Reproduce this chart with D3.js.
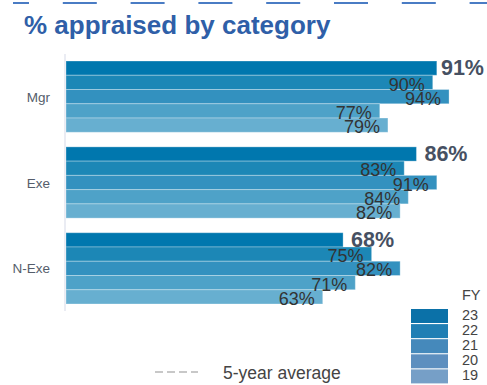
<!DOCTYPE html>
<html><head><meta charset="utf-8">
<script src="https://cdn.jsdelivr.net/npm/d3@7"></script>
<style>body{margin:0;background:#fff;}svg{display:block;font-family:"Liberation Sans",Arial,sans-serif;}</style>
</head><body><svg id="c" width="487" height="385"></svg>
<script>
const categories = ["Mgr", "Exe", "N-Exe"];
const years = ["23", "22", "21", "20", "19"];
const values = {
  "Mgr":   [91, 90, 94, 77, 79],
  "Exe":   [86, 83, 91, 84, 82],
  "N-Exe": [68, 75, 82, 71, 63]
};
const barColors = ["#0077ae", "#1c87b6", "#3391bf", "#4ea2c8", "#67afd0"];
const legendColors = ["#0b71a8", "#207fb4", "#4589bb", "#5d8fbf", "#769fc7"];
const titleText = "% appraised by category";
const avgLabel = "5-year average";

const svg = d3.select("#c");
const W = 487;

// top dashed decoration
svg.append("line").attr("x1", 13).attr("x2", 487).attr("y1", 3).attr("y2", 3)
  .attr("stroke", "#4a7cc4").attr("stroke-width", 2)
  .attr("stroke-dasharray", "34 33.8").attr("stroke-dashoffset", 18);

svg.append("text").attr("x", 24).attr("y", 34).text(titleText)
  .attr("font-size", 26).attr("font-weight", "bold").attr("fill", "#2f5fa8");

const x = d3.scaleLinear().domain([0, 100]).range([66, 473.5]);
const y = d3.scaleBand().domain(categories).range([61, 304]).paddingInner(0.17);
const yi = d3.scaleBand().domain(years).range([0, y.bandwidth()]);

// axis line
svg.append("line").attr("x1", 65).attr("x2", 65).attr("y1", 54).attr("y2", 311)
  .attr("stroke", "#eaecf3").attr("stroke-width", 2);

// category labels
svg.selectAll(".cat").data(categories).join("text")
  .attr("x", 50).attr("y", d => y(d) + y.bandwidth() / 2 + 5)
  .attr("text-anchor", "end").attr("font-size", 13.5).attr("fill", "#555d6b")
  .text(d => d);

const rows = [];
categories.forEach(c => years.forEach((yr, i) => rows.push({c, yr, i, v: values[c][i]})));

svg.selectAll(".bar").data(rows).join("rect")
  .attr("x", x(0)).attr("y", d => y(d.c) + yi(d.yr))
  .attr("width", d => x(d.v) - x(0)).attr("height", yi.bandwidth())
  .attr("fill", d => barColors[d.i])
  .attr("stroke", "rgba(255,255,255,0.3)").attr("stroke-width", 1);

// value labels
rows.forEach(d => {
  const yc = y(d.c) + yi(d.yr) + yi.bandwidth() / 2;
  if (d.i === 0) {
    const t = svg.append("text").attr("font-size", 21.5).attr("font-weight", "bold")
      .attr("fill", "#465062").text(d.v + "%").attr("y", yc + 7);
    const w = t.node().getComputedTextLength();
    t.attr("x", Math.min(x(d.v) + 8, W - 3 - w));
  } else {
    svg.append("text").attr("font-size", 18).attr("fill", "#333")
      .attr("text-anchor", "end").attr("x", x(d.v) - 8)
      .attr("y", y(d.c) + yi(d.yr) + yi.bandwidth() + 1)
      .text(d.v + "%");
  }
});

// FY legend
svg.append("text").attr("x", 462).attr("y", 300).attr("font-size", 14.5).attr("fill", "#444").text("FY");
const lg = svg.selectAll(".lg").data(years).join("g")
  .attr("transform", (d, i) => `translate(411,${309 + i * 15.1})`);
lg.append("rect").attr("width", 37).attr("height", 14).attr("fill", (d, i) => legendColors[i]);
lg.append("text").attr("x", 51).attr("y", 10.5).attr("font-size", 14.5).attr("fill", "#444").text(d => d);

// 5-year average legend
svg.append("line").attr("x1", 155).attr("x2", 198).attr("y1", 372).attr("y2", 372)
  .attr("stroke", "#c8c8c8").attr("stroke-width", 2).attr("stroke-dasharray", "8 4");
svg.append("text").attr("x", 223).attr("y", 379).attr("font-size", 17.5).attr("fill", "#444").text(avgLabel);
</script></body></html>
